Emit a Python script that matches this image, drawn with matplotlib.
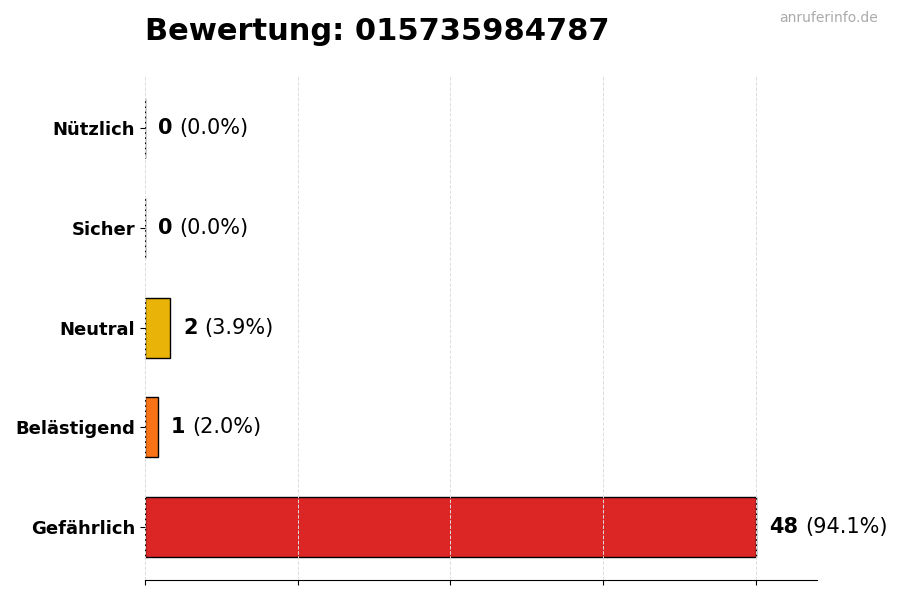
import matplotlib.pyplot as plt
import numpy as np

kategorien = ["Gefährlich", "Belästigend", "Neutral", "Sicher", "Nützlich"]
anzahl = [48, 1, 2, 0, 0]
farben = ["#DC2626", "#F97316", "#EAB308", "#9CA3AF", "#22C55E"]
nummer = "015735984787"

gesamt = sum(anzahl)
prozent = [a / gesamt * 100 for a in anzahl]

fig, ax = plt.subplots(figsize=(9, 6), dpi=100)
fig.subplots_adjust(left=0.161, right=0.908, top=0.875, bottom=0.033)

y = np.arange(len(kategorien))
ax.barh(y, anzahl, height=0.6, color=farben, edgecolor="black", linewidth=1)

ax.set_yticks(y)
ax.set_yticklabels(kategorien, fontsize=13, fontweight="bold")
ax.set_xlim(0, max(anzahl) * 1.1)
ax.set_xticks([0, 12, 24, 36, 48])
ax.set_xticklabels([])

ax.grid(axis="x", color="#dddddd", linestyle="--", linewidth=0.7)
ax.set_axisbelow(False)
for s in ["top", "right", "left"]:
    ax.spines[s].set_visible(False)

versatz = max(anzahl) * 0.022
for yi, a, p in zip(y, anzahl, prozent):
    t = ax.text(a + versatz, yi, str(a), fontsize=15, fontweight="bold", va="center", ha="left")
    ax.annotate(f"({p:.1f}%)", xy=(1, 0.5), xycoords=t, xytext=(4.5, 0), textcoords="offset points",
                fontsize=15, va="center", ha="left")

fig.text(0.161, 0.947, f"Bewertung: {nummer}", fontsize=22, fontweight="bold", ha="left", va="center")
fig.text(0.975, 0.97, "anruferinfo.de", fontsize=10, color="#aaaaaa", ha="right", va="center")

plt.savefig("out.png")
